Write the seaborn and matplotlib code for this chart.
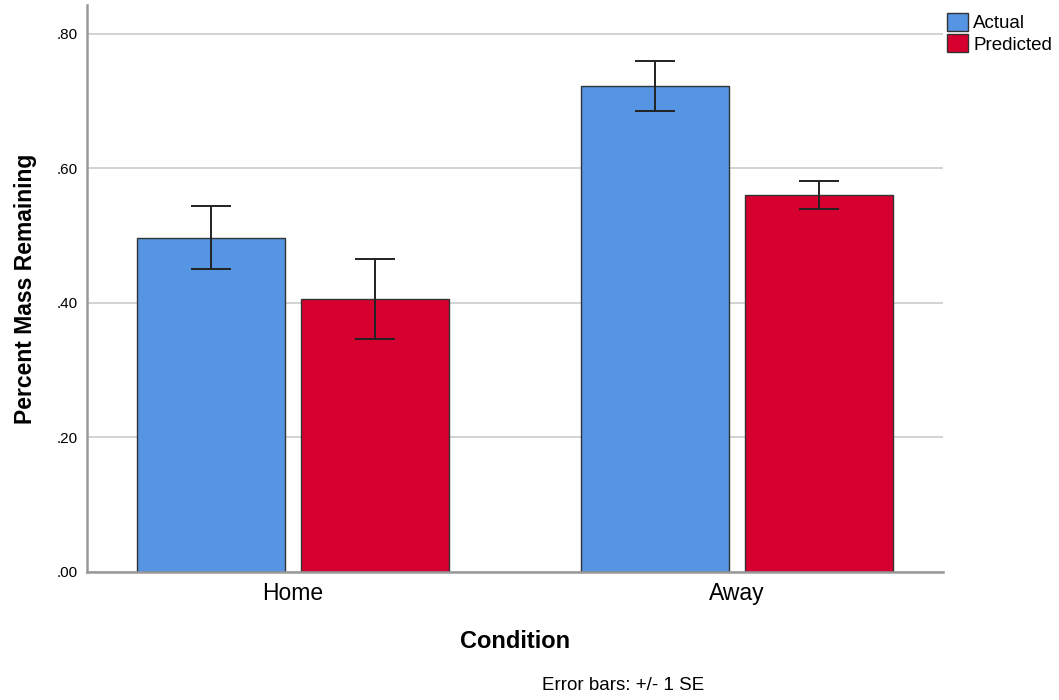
import pandas as pd
import seaborn as sns
from matplotlib import pyplot as plt

# values
conditions = ["Home", "Home", "Away", "Away"]
groups = ["Actual", "Predicted", "Actual", "Predicted"]
means = [0.497, 0.406, 0.722, 0.561]
errors = [0.047, 0.059, 0.037, 0.021]

yticks = [0.0, 0.2, 0.4, 0.6, 0.8]
ytick_labels = [".00", ".20", ".40", ".60", ".80"]

COLORS = {"Actual": "#5595E3", "Predicted": "#D5002F"}


def plot():
    data = pd.DataFrame({"Condition": conditions, "Group": groups,
                         "Percent Mass Remaining": means, "SE": errors})

    sns.set_style("white")
    plt.rcParams["font.family"] = ["Liberation Sans", "DejaVu Sans"]
    plt.rcParams["text.color"] = "black"
    plt.rcParams["axes.labelcolor"] = "black"
    plt.rcParams["xtick.color"] = "black"
    plt.rcParams["ytick.color"] = "black"

    fig = plt.figure(figsize=(10.59, 7), dpi=100)
    ax = fig.add_axes([0.0822, 0.1829, 0.8083, 0.81])

    ax.yaxis.grid(True, color="#cccccc", linewidth=1.2)
    ax.set_axisbelow(True)

    sns.barplot(data, x="Condition", y="Percent Mass Remaining", hue="Group",
                order=["Home", "Away"], hue_order=["Actual", "Predicted"],
                palette=COLORS, saturation=1, errorbar=None, width=0.736, gap=0.095,
                edgecolor="#333333", linewidth=1.0, legend=False, ax=ax)

    # error bars (+/- 1 SE) at the centres of the drawn bars
    for level, container in zip(["Actual", "Predicted"], ax.containers):
        sub = data[data["Group"] == level].set_index("Condition").loc[["Home", "Away"]]
        xs = [b.get_x() + b.get_width() / 2 for b in container]
        ax.errorbar(xs, sub["Percent Mass Remaining"], yerr=sub["SE"], fmt="none",
                    ecolor="#222222", elinewidth=1.4, capsize=14.5, capthick=1.4, zorder=5)

    ax.set_xlim(-0.464, 1.464)
    ax.set_ylim(0, 0.843)
    ax.set_yticks(yticks, ytick_labels)
    ax.tick_params(axis="y", length=0, pad=7, labelsize=11)
    ax.tick_params(axis="x", length=0, pad=7, labelsize=16.5)

    for side in ["top", "right"]:
        ax.spines[side].set_visible(False)
    for side in ["left", "bottom"]:
        ax.spines[side].set_color("#999999")
        ax.spines[side].set_linewidth(1.8)

    ax.set_xlabel("Condition", fontsize=17, fontweight="bold", labelpad=18)
    ax.set_ylabel("Percent Mass Remaining", fontsize=16.5, fontweight="bold", labelpad=14)

    handles = [plt.Rectangle((0, 0), 1, 1, facecolor=COLORS[g], edgecolor="#333333", linewidth=1.0)
               for g in ["Actual", "Predicted"]]
    fig.legend(handles, ["Actual", "Predicted"], loc="upper left", bbox_to_anchor=(0.882, 1.0),
               frameon=False, fontsize=13.5, handlelength=1.1, handleheight=1.1,
               handletextpad=0.3, labelspacing=0.1, borderaxespad=0.3)

    fig.text(0.588, 0.02, "Error bars: +/- 1 SE", ha="center", va="center", fontsize=13.5)

    plt.savefig("out.png", dpi=100)
    plt.close()


if __name__ == '__main__':
    plot()
